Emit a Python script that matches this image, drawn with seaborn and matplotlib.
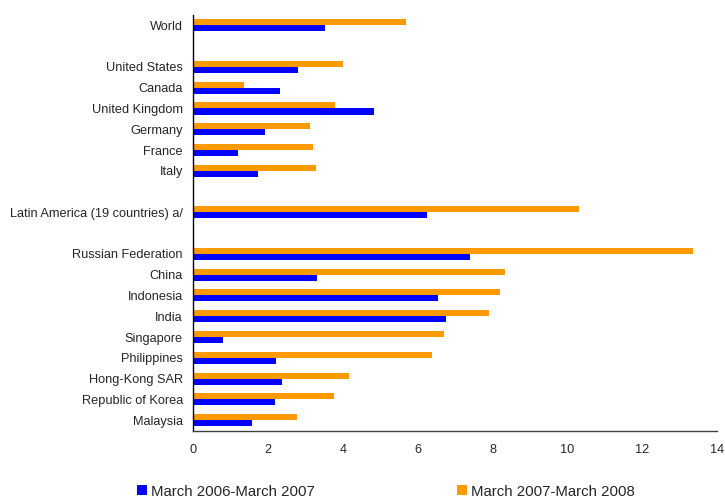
import matplotlib
matplotlib.use("Agg")
import matplotlib.pyplot as plt
from matplotlib.patches import Patch
import numpy as np
import pandas as pd
import seaborn as sns

# Categories top to bottom; whitespace entries are spacer rows between groups
categories = [
    "World", " ",
    "United States", "Canada", "United Kingdom", "Germany", "France", "Italy", "  ",
    "Latin America (19 countries) a/", "   ",
    "Russian Federation", "China", "Indonesia", "India", "Singapore",
    "Philippines", "Hong-Kong SAR", "Republic of Korea", "Malaysia",
]
period_1 = "March 2006-March 2007"
period_2 = "March 2007-March 2008"
values_2006_07 = [3.52, np.nan, 2.80, 2.32, 4.83, 1.92, 1.19, 1.73, np.nan,
                  6.24, np.nan, 7.39, 3.30, 6.54, 6.75, 0.79, 2.21, 2.37, 2.18, 1.57]
values_2007_08 = [5.68, np.nan, 4.00, 1.35, 3.78, 3.12, 3.20, 3.28, np.nan,
                  10.30, np.nan, 13.35, 8.33, 8.19, 7.90, 6.70, 6.38, 4.16, 3.76, 2.77]
x_ticks = [0, 2, 4, 6, 8, 10, 12, 14]

blue = "#0000FF"
orange = "#FF9900"

df = pd.DataFrame({
    "category": categories * 2,
    "value": values_2006_07 + values_2007_08,
    "period": [period_1] * len(categories) + [period_2] * len(categories),
})

sns.set_style("white")
plt.rcParams["font.family"] = ["Liberation Sans", "DejaVu Sans"]

fig = plt.figure(figsize=(7.25, 4.99), dpi=100)
ax = fig.add_axes([193.3 / 725, 1 - 430.5 / 499, (717.3 - 193.3) / 725, (430.5 - 15) / 499])

sns.barplot(
    data=df, y="category", x="value", hue="period",
    order=categories, hue_order=[period_2, period_1],
    palette={period_1: blue, period_2: orange},
    orient="h", width=0.58, gap=0, saturation=1, errorbar=None,
    linewidth=0, legend=False, ax=ax,
)

ax.set_xlim(0, 14)
ax.set_ylim(len(categories) - 0.5, -0.5)
ax.set_xticks(x_ticks)
ax.set_xticklabels([str(t) for t in x_ticks], fontsize=9.2)
ax.set_xlabel("")
ax.set_ylabel("")
ax.tick_params(axis="x", length=3, width=1, color="#404040", direction="out", pad=7)

# category labels centred on rows, tick marks on row boundaries
ax.set_yticks(range(len(categories)))
ax.set_yticklabels(categories, fontsize=9.2)
ax.tick_params(axis="y", which="major", length=0, pad=7.5)
ax.set_yticks(np.arange(-0.5, len(categories)), minor=True)
ax.tick_params(axis="y", which="minor", length=3, width=1, color="#404040", direction="out")

for side in ("top", "right"):
    ax.spines[side].set_visible(False)
ax.spines["left"].set_color("black")
ax.spines["left"].set_linewidth(1)
ax.spines["bottom"].set_color("#404040")
ax.spines["bottom"].set_linewidth(1)
ax.grid(False)

handles = [Patch(facecolor=blue, edgecolor="none", label=period_1),
           Patch(facecolor=orange, edgecolor="none", label=period_2)]
fig.legend(handles=handles, loc="center left", bbox_to_anchor=(136.7 / 725, 1 - 491.5 / 499),
           ncol=2, frameon=False, fontsize=10.8, handlelength=0.67, handleheight=0.67,
           handletextpad=0.27, columnspacing=9.5, borderaxespad=0, borderpad=0)

fig.savefig("out.png", dpi=100)
